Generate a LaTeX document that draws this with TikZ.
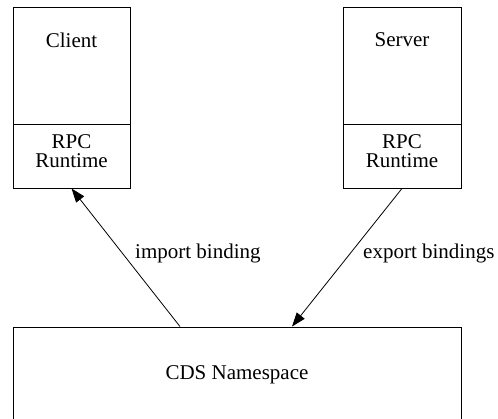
\documentclass[tikz,border=0pt]{standalone}
\usepackage{fontspec}
\setmainfont{Liberation Serif}
\usetikzlibrary{arrows.meta,calc}
\begin{document}
\begin{tikzpicture}[x=1pt,y=-1pt,
  every node/.style={font=\fontsize{21}{19}\selectfont},
  box/.style={draw,line width=0.9pt,rectangle,inner sep=0pt,align=center},
  txt/.style={anchor=center,align=center,inner sep=0pt},
  arr/.style={line width=0.8pt,-{Triangle[length=14pt,width=10pt]}},
  lbl/.style={anchor=west,inner sep=0pt}]
\useasboundingbox (0,0) rectangle (498,419);
\clip (0,0) rectangle (498,419);
% client
\node[box,minimum width=117pt,minimum height=117pt] (client) at (71.5,65.5) {};
\node[txt] (clientlbl) at (71.5,40) {Client};
\node[box,minimum width=117pt,minimum height=64pt] (clientrt) at (71.5,156) {};
\node[txt] (clientrtlbl) at (71.5,151) {RPC\\Runtime};
% server
\node[box,minimum width=118pt,minimum height=117pt] (server) at (402,65.5) {};
\node[txt] (serverlbl) at (402,40) {Server};
\node[box,minimum width=118pt,minimum height=64pt] (serverrt) at (402,156) {};
\node[txt] (serverrtlbl) at (402,151) {RPC\\Runtime};
% CDS
\node[box,minimum width=448pt,minimum height=140pt] (cds) at (237,397) {};
\node[txt] (cdslbl) at (237,375) {CDS Namespace};
% arrows
\draw[arr] ($(cds.north)+(-57,0)$) -- (clientrt.south);
\draw[arr] (serverrt.south) -- ($(cds.north)+(55,0)$);
\node[lbl] (implbl) at (135,253) {import binding};
\node[lbl] (explbl) at (363,253) {export bindings};
\end{tikzpicture}
\end{document}
